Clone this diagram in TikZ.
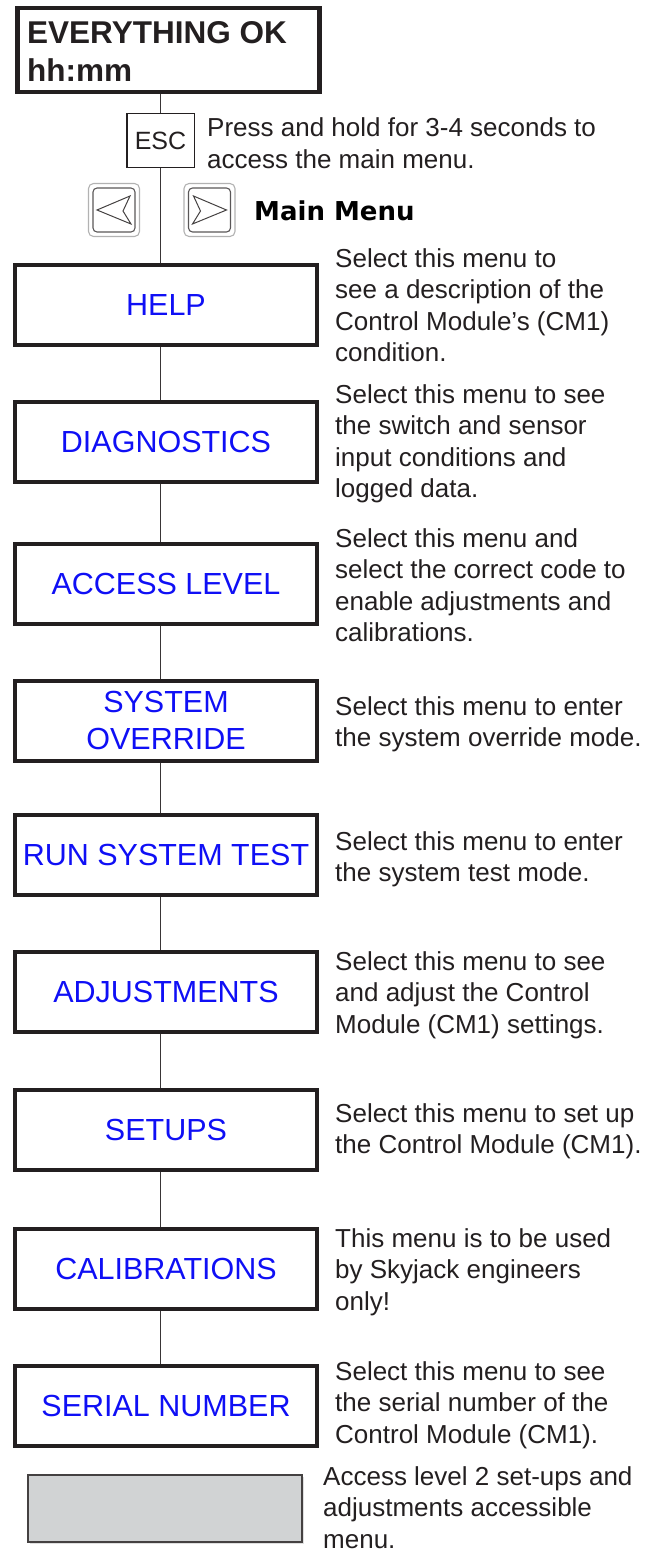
\documentclass[tikz,border=0pt]{standalone}
\usepackage{fontspec}
\usetikzlibrary{shadows}
\setmainfont{Liberation Sans}
\newfontfamily\heavyfont{DejaVu Sans}
\definecolor{txt}{HTML}{231F20}
\definecolor{lbl}{HTML}{0F0FF5}
\definecolor{gfill}{HTML}{D1D3D4}
\begin{document}
\begin{tikzpicture}[x=1pt,y=-1pt,
  menubox/.style={draw=txt, line width=4pt, minimum width=302pt, minimum height=80pt,
    inner sep=0pt, text=lbl, font=\fontsize{30.5}{37}\selectfont, align=center},
  desc/.style={anchor=west, inner sep=0pt, text=txt, font=\fontsize{26}{31.5}\selectfont, align=left},
  link/.style={draw=txt!90, line width=1.6pt},
  btn/.style={draw=gray!60, line width=1.1pt, rounded corners=5pt, minimum width=51pt,
    minimum height=53pt, inner sep=0pt},
  btninner/.style={draw=txt!75, line width=1.1pt, rounded corners=4pt},
  btnarrow/.style={draw=txt!85, line width=1pt, line join=miter},
  bigtext/.style={anchor=base west, inner sep=0pt, text=txt, font=\bfseries\fontsize{31.5}{37}\selectfont}
]
\useasboundingbox (0,0) rectangle (656,1552);

% top display
\node[draw=txt, line width=4.5pt, minimum width=302pt, minimum height=84pt, inner sep=0pt] (top) at (168.5,50) {};
\node[bigtext] (t1) at (27,44) {EVERYTHING OK};
\node[bigtext] (t2) at (27,82) {hh:mm};

% ESC key
\node[draw=txt, line width=1.5pt, minimum width=67.5pt, minimum height=53.5pt, inner sep=0pt,
  font=\fontsize{25}{30}\selectfont, text=txt] (esc) at (160.5,140.5) {ESC};
\node[desc] (escdesc) at (207,143) {Press and hold for 3-4 seconds to\\access the main menu.};

% arrow buttons
\node[btn] (lbtn) at (114,210) {};
\node[btn] (rbtn) at (209.5,210) {};
\draw[btninner, shift={(lbtn.center)}] (-21,-22) rectangle (21,22);
\draw[btninner, shift={(rbtn.center)}] (-21,-22) rectangle (21,22);
\draw[btnarrow, shift={(lbtn.center)}] (-17,0) -- (16,-14) -- (9,1) -- (17,14) -- cycle;
\draw[btnarrow, shift={(rbtn.center)}] (17,0) -- (-16,-14) -- (-9,1) -- (-17,14) -- cycle;
\node[anchor=base west, inner sep=0pt, text=black, font=\heavyfont\bfseries\fontsize{26}{30}\selectfont] (mm) at (254,220) {Main Menu};

% menu boxes
\node[menubox] (help)   at (166,305)    {HELP};
\node[menubox] (diag)   at (166,441.5)  {DIAGNOSTICS};
\node[menubox] (access) at (166,583.5)  {ACCESS LEVEL};
\node[menubox] (over)   at (166,720.5)  {SYSTEM\\OVERRIDE};
\node[menubox] (run)    at (166,855)    {RUN SYSTEM TEST};
\node[menubox] (adj)    at (166,991.5)  {ADJUSTMENTS};
\node[menubox] (setup)  at (166,1130)   {SETUPS};
\node[menubox] (calib)  at (166,1268.5) {CALIBRATIONS};
\node[menubox] (serial) at (166,1405.5) {SERIAL NUMBER};
\node[draw=txt!85, line width=1.8pt, fill=gfill, minimum width=274pt, minimum height=66.5pt, inner sep=0pt,
  drop shadow={shadow xshift=1.5pt, shadow yshift=-2pt, opacity=0.25}] (lvl2) at (165.25,1508.5) {};

% descriptions
\node[desc] (helpd)   at (335,305.2)  {Select this menu to\\see a description of the\\Control Module’s (CM1)\\condition.};
\node[desc] (diagd)   at (335,443.9)  {Select this menu to see\\the switch and sensor\\input conditions and\\logged data.};
\node[desc] (accessd) at (335,585)    {Select this menu and\\select the correct code to\\enable adjustments and\\calibrations.};
\node[desc] (overd)   at (335,724.2)  {Select this menu to enter\\the system override mode.};
\node[desc] (rund)    at (335,859.2)  {Select this menu to enter\\the system test mode.};
\node[desc] (adjd)    at (335,994.9)  {Select this menu to see\\and adjust the Control\\Module (CM1) settings.};
\node[desc] (setupd)  at (335,1131.2) {Select this menu to set up\\the Control Module (CM1).};
\node[desc] (calibd)  at (335,1271.9) {This menu is to be used\\by Skyjack engineers\\only!};
\node[desc] (seriald) at (335,1404.9) {Select this menu to see\\the serial number of the\\Control Module (CM1).};
\node[desc] (lvl2d)   at (323,1507.2) {Access level 2 set-ups and\\adjustments accessible\\menu.};

% connectors
\draw[link] (top.south -| esc.north) -- (esc.north);
\draw[link] (esc.south) -- (esc.south |- help.north);
\draw[link] (help.south -| esc.south) -- (diag.north -| esc.south);
\draw[link] (diag.south -| esc.south) -- (access.north -| esc.south);
\draw[link] (access.south -| esc.south) -- (over.north -| esc.south);
\draw[link] (over.south -| esc.south) -- (run.north -| esc.south);
\draw[link] (run.south -| esc.south) -- (adj.north -| esc.south);
\draw[link] (adj.south -| esc.south) -- (setup.north -| esc.south);
\draw[link] (setup.south -| esc.south) -- (calib.north -| esc.south);
\draw[link] (calib.south -| esc.south) -- (serial.north -| esc.south);
\end{tikzpicture}
\end{document}
